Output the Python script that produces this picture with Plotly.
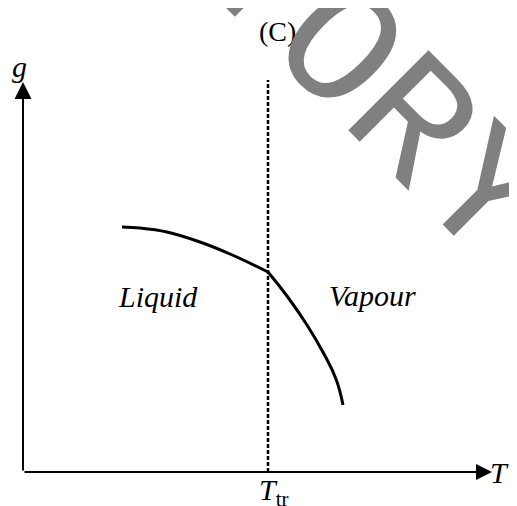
import plotly.graph_objects as go

# chart units: 1 unit = 10 px, origin at the axes corner
T_tr = 24.5

# liquid branch (left of T_tr) and vapour branch (right of T_tr)
liquid_T = [9.9, 11.7, 14.4, 17.7, 20.7, 24.5]
liquid_g = [24.5, 24.4, 24.0, 23.0, 21.8, 20.0]
vapour_T = [24.5, 26.4, 28.4, 30.1, 31.3, 32.0]
vapour_g = [20.0, 17.6, 14.7, 11.8, 9.3, 6.7]

T_max = 46.9
g_max = 39.0
dash_top = 39.2

serif = "Liberation Serif, Times New Roman, serif"

fig = go.Figure()

fig.add_trace(go.Scatter(x=liquid_T, y=liquid_g, mode="lines",
                         line=dict(color="black", width=3, shape="spline", smoothing=1.0),
                         hoverinfo="skip"))
fig.add_trace(go.Scatter(x=vapour_T, y=vapour_g, mode="lines",
                         line=dict(color="black", width=3, shape="spline", smoothing=1.3),
                         hoverinfo="skip"))

# dashed line at the transition temperature
fig.add_shape(type="line", x0=T_tr, x1=T_tr, y0=0, y1=dash_top,
              line=dict(color="black", width=2.5, dash="4px,2px"))

# axes with arrow heads
fig.add_annotation(x=0, y=g_max, ax=0, ay=0, axref="x", ayref="y", text="",
                   showarrow=True, arrowhead=2, arrowsize=1.7, arrowwidth=2, arrowcolor="black")
fig.add_annotation(x=T_max, y=0, ax=0, ay=0, axref="x", ayref="y", text="",
                   showarrow=True, arrowhead=2, arrowsize=1.6, arrowwidth=2, arrowcolor="black")

txt = dict(family=serif, size=30, color="black")
fig.add_annotation(x=-0.4, y=40.6, text="<i>g</i>", showarrow=False, font=txt)
fig.add_annotation(x=47.6, y=0, text="<i>T</i>", showarrow=False, font=txt)
fig.add_annotation(x=23.4, y=-2.0, text="<i>T</i><sub>tr</sub>", showarrow=False,
                   xanchor="left", font=txt)
fig.add_annotation(x=13.5, y=17.6, text="<i>Liquid</i>", showarrow=False, font=txt)
fig.add_annotation(x=34.9, y=17.7, text="<i>Vapour</i>", showarrow=False, font=txt)
fig.add_annotation(x=25.4, y=44.1, text="(C)", showarrow=False,
                   font=dict(family=serif, size=28, color="black"))

# watermark
fig.add_annotation(x=34.8, y=38.4, text="TORY", showarrow=False, textangle=45,
                   font=dict(family="Liberation Mono, Courier New, monospace", size=172,
                             color="#808080"))

# the page body adds an 8 px margin, so the figure is kept inside the window
fig.update_xaxes(range=[-1.5, 48.6], visible=False)
fig.update_yaxes(range=[-3.4, 46.4], visible=False)
fig.update_layout(width=501, height=498, margin=dict(l=0, r=0, t=0, b=0),
                  showlegend=False, plot_bgcolor="white", paper_bgcolor="white")

fig.write_html("out.html")
